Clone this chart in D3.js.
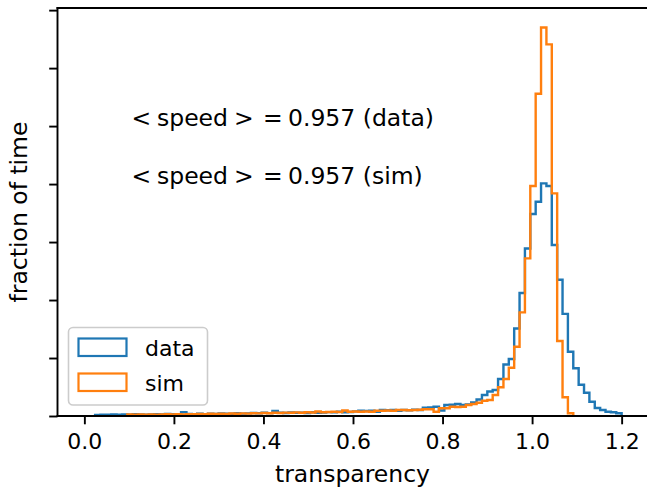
<!DOCTYPE html>
<html><head><meta charset="utf-8">
<script src="https://cdn.jsdelivr.net/npm/d3@7"></script>
<style>body{margin:0;background:#fff} svg{display:block} text{font-family:"DejaVu Sans",sans-serif;fill:#000}</style>
</head><body><svg id="c" width="647" height="491"></svg>
<script>
const binRange = [0, 1.2];
const nBins = 100;
const dataFrac = [
0,0,0.00043,0.00056,0.00052,0.00065,0.00056,0.00069,0.00060,0.00073,
0.00065,0.00056,0.00069,0.00078,0.00065,0.00086,0.00073,0.00082,0.00164,0.00086,
0.00078,0.00095,0.00082,0.00103,0.00091,0.00112,0.00099,0.00095,0.00121,0.00103,
0.00112,0.00129,0.00116,0.00142,0.00125,0.00216,0.00138,0.00129,0.00155,0.00138,
0.00147,0.00129,0.00164,0.00142,0.00151,0.00168,0.00155,0.00181,0.00164,0.00172,
0.00198,0.00228,0.00216,0.00228,0.00185,0.00259,0.00250,0.00259,0.00228,0.00259,
0.00250,0.00267,0.00259,0.00358,0.00366,0.00401,0.00237,0.00474,0.00483,0.00517,
0.00474,0.00496,0.00582,0.00711,0.00905,0.01056,0.01121,0.01595,0.02220,0.02457,
0.03772,0.05302,0.07220,0.08707,0.09237,0.10030,0.09914,0.07371,0.05875,0.04405,
0.02772,0.02056,0.01349,0.01004,0.00616,0.00345,0.00259,0.00185,0.00159,0.00116];
const simFrac = [
0,0,0,0,0,0,0,0,0.00065,0.00052,
0.00065,0.00056,0.00069,0.00060,0.00065,0.00073,0.00065,0.00078,0.00069,0.00082,
0.00073,0.00086,0.00078,0.00095,0.00086,0.00099,0.00091,0.00108,0.00099,0.00112,
0.00103,0.00121,0.00112,0.00129,0.00121,0.00138,0.00129,0.00147,0.00138,0.00155,
0.00142,0.00164,0.00151,0.00194,0.00164,0.00172,0.00181,0.00172,0.00237,0.00185,
0.00194,0.00185,0.00194,0.00185,0.00228,0.00228,0.00237,0.00228,0.00259,0.00259,
0.00250,0.00259,0.00267,0.00289,0.00289,0.00185,0.00332,0.00332,0.00401,0.00388,
0.00401,0.00474,0.00517,0.00573,0.00659,0.00690,0.00905,0.01237,0.01595,0.02082,
0.02987,0.04470,0.06797,0.09914,0.13892,0.16754,0.16022,0.09599,0.03233,0.00806,
0.00116,0,0,0,0,0,0,0,0,0];
const seriesNames = ["data", "sim"];
const seriesColors = ["#1f77b4", "#ff7f0e"];
const xTicks = [0, 0.2, 0.4, 0.6, 0.8, 1.0, 1.2];
const xTickLabels = ["0.0", "0.2", "0.4", "0.6", "0.8", "1.0", "1.2"];
const yTicks = [0, 0.025, 0.05, 0.075, 0.1, 0.125, 0.15, 0.175];
const speedMeans = ["0.957", "0.957"];
const annotationTags = ["(data)", "(sim)"];
const xLabel = "transparency";
const yLabel = "fraction of time";

const svg = d3.select("#c");
const L = 57.5, R = 648.5, T = 8, B = 416;
const span = binRange[1] - binRange[0];
const x = d3.scaleLinear().domain([binRange[0] - 0.05 * span, binRange[1] + 0.05 * span]).range([L, R]);
const yMax = 1.05 * d3.max([...dataFrac, ...simFrac]);
const y = d3.scaleLinear().domain([0, yMax]).range([B, T]);
const edges = d3.range(nBins + 1).map(i => binRange[0] + i * span / nBins);

svg.append("defs").append("clipPath").attr("id", "clip")
  .append("rect").attr("x", L).attr("y", T).attr("width", R - L).attr("height", B - T);

function stepPts(vals) {
  let a = vals.findIndex(v => v > 0);
  let b = vals.length - 1; while (vals[b] <= 0) b--;
  const pts = [[edges[a], 0]];
  for (let i = a; i <= b; i++) { pts.push([edges[i], vals[i]]); pts.push([edges[i + 1], vals[i]]); }
  pts.push([edges[b + 1], 0]);
  return pts;
}
const line = d3.line().x(d => x(d[0])).y(d => y(d[1]));
const g = svg.append("g").attr("clip-path", "url(#clip)");
[dataFrac, simFrac].forEach((vals, k) => {
  g.append("path").attr("d", line(stepPts(vals))).attr("fill", "none")
    .attr("stroke", seriesColors[k]).attr("stroke-width", 2.4).attr("stroke-linejoin", "miter");
});

// axes
const xAxis = d3.axisBottom(x).tickValues(xTicks).tickFormat((d, i) => xTickLabels[i]).tickSize(8.3);
const gx = svg.append("g").attr("transform", `translate(0,${B})`).call(xAxis);
const yAxis = d3.axisLeft(y).tickValues(yTicks).tickFormat(() => "").tickSize(8.3);
const gy = svg.append("g").attr("transform", `translate(${L},0)`).call(yAxis);
[gx, gy].forEach(a => {
  a.select(".domain").remove();
  a.selectAll(".tick line").attr("stroke", "#000").attr("stroke-width", 1.9);
  a.selectAll(".tick text").style("font-size", "22px").attr("fill", "#000");
});
gx.selectAll(".tick text").attr("dy", null).attr("y", 33);
// spines
const sp = svg.append("g").attr("stroke", "#000").attr("stroke-width", 1.9).attr("stroke-linecap", "square");
sp.append("line").attr("x1", L).attr("x2", L).attr("y1", T).attr("y2", B);
sp.append("line").attr("x1", L).attr("x2", R).attr("y1", B).attr("y2", B);
sp.append("line").attr("x1", L).attr("x2", R).attr("y1", T).attr("y2", T);
sp.append("line").attr("x1", R).attr("x2", R).attr("y1", T).attr("y2", B);

// labels
svg.append("text").attr("x", (L + R) / 2 - 0.5).attr("y", 481.5).attr("text-anchor", "middle").style("font-size", "23.5px").text(xLabel);
svg.append("text").attr("transform", `translate(26.8,${(T + B) / 2}) rotate(-90)`).attr("text-anchor", "middle").style("font-size", "23.5px").text(yLabel);

// annotations (mathtext-like spacing)
speedMeans.forEach((m, i) => {
  const t = svg.append("text").attr("y", 126 + i * 58).style("font-size", "23.5px");
  t.append("tspan").attr("x", 131.6).text("<");
  t.append("tspan").attr("x", 157).text("speed");
  t.append("tspan").attr("x", 234).text(">");
  t.append("tspan").attr("x", 263).text("=");
  t.append("tspan").attr("x", 288).text(m + " " + annotationTags[i]);
});

// legend
const lg = svg.append("g");
lg.append("rect").attr("x", 68.5).attr("y", 327.5).attr("width", 139).attr("height", 77.5).attr("rx", 4.5)
  .attr("fill", "#fff").attr("fill-opacity", 0.8).attr("stroke", "#cccccc").attr("stroke-width", 1.6);
seriesNames.forEach((n, i) => {
  const yy = 338.5 + i * 35;
  lg.append("rect").attr("x", 78.5).attr("y", yy).attr("width", 48).attr("height", 17.5)
    .attr("fill", "none").attr("stroke", seriesColors[i]).attr("stroke-width", 2.2);
  lg.append("text").attr("x", 145).attr("y", yy + 17).style("font-size", "22px").text(n);
});
</script></body></html>
